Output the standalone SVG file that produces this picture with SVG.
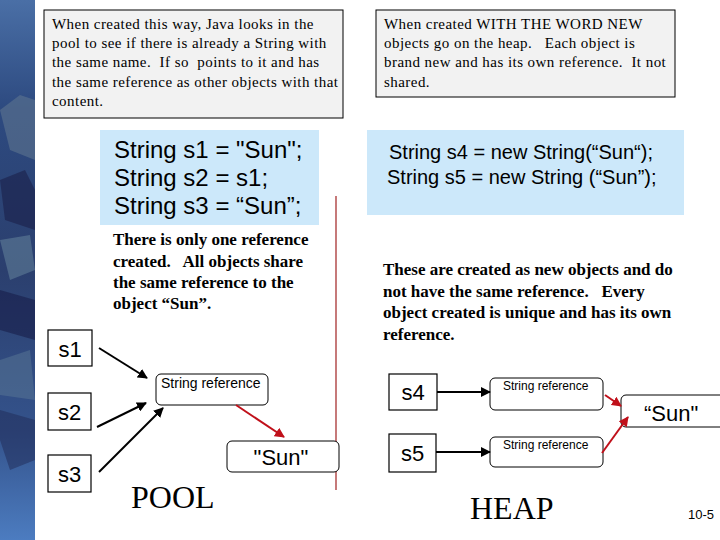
<svg xmlns="http://www.w3.org/2000/svg" width="720" height="540" viewBox="0 0 720 540">
<style>
text{white-space:pre}
.note{font-family:"Liberation Serif",serif;font-size:15px;letter-spacing:0.45px;fill:#000}
.para{font-family:"Liberation Serif",serif;font-size:17px;font-weight:bold;fill:#000}
.code{font-family:"Liberation Sans",Arial,sans-serif;fill:#000}
.box{fill:#fff;stroke:#000;stroke-width:1.2}
.rbox{fill:#fff;stroke:#000;stroke-width:1}
.lbl{font-family:"Liberation Sans",Arial,sans-serif;font-size:22px;fill:#000}
.small{font-family:"Liberation Sans",Arial,sans-serif;font-size:13px;fill:#000}
.big{font-family:"Liberation Serif",serif;font-size:32px;fill:#000}
.blk{stroke:#000;stroke-width:2;fill:none}
.red{stroke:#c0101a;stroke-width:2;fill:none}
</style>
<defs>
<linearGradient id="strip" x1="0" y1="0" x2="0" y2="1">
<stop offset="0" stop-color="#4a6fa6"/>
<stop offset="0.2" stop-color="#2d4a80"/>
<stop offset="0.5" stop-color="#2b3f6e"/>
<stop offset="0.8" stop-color="#34538c"/>
<stop offset="1" stop-color="#4c7cc0"/>
</linearGradient>
<marker id="ab" viewBox="0 0 10 10" refX="9" refY="5" markerWidth="5" markerHeight="5" orient="auto"><path d="M0,0 L10,5 L0,10 z" fill="#000"/></marker>
<marker id="ar" viewBox="0 0 10 10" refX="9" refY="5" markerWidth="5" markerHeight="5" orient="auto"><path d="M0,0 L10,5 L0,10 z" fill="#c0101a"/></marker>
</defs>
<rect x="0" y="0" width="720" height="540" fill="#fff"/>
<g id="strip-bg">
<rect x="0" y="0" width="35" height="540" fill="url(#strip)"/>
<polygon points="0,110 20,95 35,100 35,160 10,150" fill="#5d7590" opacity="0.6"/>
<polygon points="0,180 25,170 35,190 35,230 5,220" fill="#1b1f4a" opacity="0.6"/>
<polygon points="0,240 30,235 35,270 10,280" fill="#6a8aa0" opacity="0.5"/>
<polygon points="0,290 35,300 35,340 0,330" fill="#161a45" opacity="0.55"/>
<polygon points="0,360 30,350 35,400 0,395" fill="#5a7896" opacity="0.5"/>
<polygon points="0,410 35,420 35,460 10,470 0,440" fill="#202a55" opacity="0.5"/>
</g>
<g id="note-pool">
<rect x="44" y="10" width="299" height="108" fill="#f2f2f2" stroke="#000" stroke-width="1"/>
<text class="note" x="52" y="29">When created this way, Java looks in the</text>
<text class="note" x="52" y="48">pool to see if there is already a String with</text>
<text class="note" x="52" y="67">the same name.  If so  points to it and has</text>
<text class="note" x="52" y="87">the same reference as other objects with that</text>
<text class="note" x="52" y="106">content.</text>
</g>
<g id="note-heap">
<rect x="376" y="10" width="299" height="87" fill="#f2f2f2" stroke="#000" stroke-width="1"/>
<text class="note" x="384" y="29">When created WITH THE WORD NEW</text>
<text class="note" x="384" y="48">objects go on the heap.   Each object is</text>
<text class="note" x="384" y="67">brand new and has its own reference.  It not</text>
<text class="note" x="384" y="87">shared.</text>
</g>
<g id="code-pool">
<rect x="100" y="130" width="219" height="95" fill="#cce8fa"/>
<text class="code" style="font-size:24px" x="114" y="158">String s1 = "Sun";</text>
<text class="code" style="font-size:24px" x="114" y="186">String s2 = s1;</text>
<text class="code" style="font-size:24px" x="114" y="214">String s3 = “Sun”;</text>
</g>
<g id="code-heap">
<rect x="367" y="130" width="317" height="85" fill="#cce8fa"/>
<text class="code" style="font-size:20px" x="389" y="159">String s4 = new String(“Sun“);</text>
<text class="code" style="font-size:20px" x="387" y="184">String s5 = new String (“Sun”);</text>
</g>
<g id="para-pool">
<text class="para" x="113" y="245">There is only one reference</text>
<text class="para" x="113" y="267">created.   All objects share</text>
<text class="para" x="113" y="288">the same reference to the</text>
<text class="para" x="113" y="309">object “Sun”.</text>
</g>
<g id="para-heap">
<text class="para" x="383" y="275">These are created as new objects and do</text>
<text class="para" x="383" y="297">not have the same reference.   Every</text>
<text class="para" x="383" y="318">object created is unique and has its own</text>
<text class="para" x="383" y="340">reference.</text>
</g>
<g id="divider"><line x1="336" y1="196" x2="336" y2="490" stroke="#a02020" stroke-width="1.2"/></g>
<g id="s1"><rect class="box" x="48" y="330" width="44" height="36"/><text class="lbl" x="70" y="357" text-anchor="middle">s1</text></g>
<g id="s2"><rect class="box" x="48" y="393" width="43" height="37"/><text class="lbl" x="69.5" y="420" text-anchor="middle">s2</text></g>
<g id="s3"><rect class="box" x="48" y="455" width="43" height="37"/><text class="lbl" x="69.5" y="482" text-anchor="middle">s3</text></g>
<g id="ref-pool"><rect class="rbox" x="156" y="374" width="112" height="31" rx="5"/><text class="small" style="font-size:14px" x="161" y="388">String reference</text></g>
<g id="sun-pool"><rect class="rbox" x="227" y="441" width="112" height="31" rx="5"/><text class="lbl" x="281" y="465" text-anchor="middle">"Sun"</text></g>
<g id="pool-label"><text class="big" x="131" y="508">POOL</text></g>
<g id="s4"><rect class="box" x="389" y="374" width="48" height="36"/><text class="lbl" x="413" y="400" text-anchor="middle">s4</text></g>
<g id="s5"><rect class="box" x="389" y="434" width="47" height="38"/><text class="lbl" x="412.5" y="461" text-anchor="middle">s5</text></g>
<g id="ref-heap1"><rect class="rbox" x="490" y="378" width="113" height="32" rx="5"/><text class="small" style="font-size:12px" x="503" y="390">String reference</text></g>
<g id="ref-heap2"><rect class="rbox" x="490" y="437" width="113" height="30" rx="5"/><text class="small" style="font-size:12px" x="503" y="449">String reference</text></g>
<g id="sun-heap"><rect class="rbox" x="621" y="395" width="110" height="32" rx="5"/><text class="lbl" x="644" y="421">“Sun"</text></g>
<g id="heap-label"><text class="big" x="470" y="519">HEAP</text></g>
<g id="page"><text class="small" x="688" y="519">10-5</text></g>
<g id="connectors">
<line class="blk" x1="99" y1="348" x2="147" y2="378" marker-end="url(#ab)"/>
<line class="blk" x1="97" y1="427" x2="146" y2="403" marker-end="url(#ab)"/>
<line class="blk" x1="99" y1="472" x2="163" y2="408" marker-end="url(#ab)"/>
<line class="red" x1="236" y1="405" x2="284" y2="437" marker-end="url(#ar)"/>
<line class="blk" x1="437" y1="392" x2="490" y2="392" marker-end="url(#ab)"/>
<line class="blk" x1="436" y1="452" x2="490" y2="452" marker-end="url(#ab)"/>
<line class="red" x1="605" y1="395" x2="621" y2="406" marker-end="url(#ar)"/>
<line class="red" x1="602" y1="453" x2="628" y2="417" marker-end="url(#ar)"/>
</g>
</svg>
